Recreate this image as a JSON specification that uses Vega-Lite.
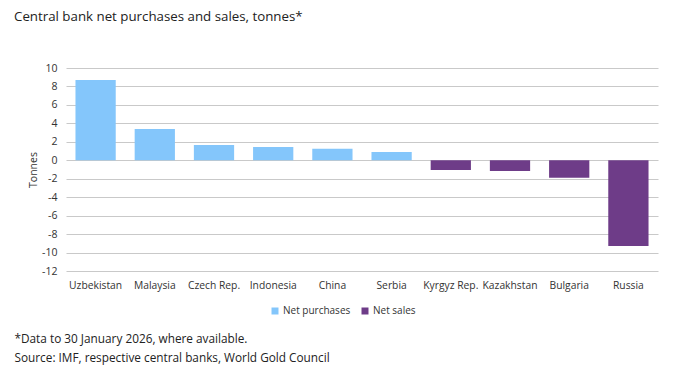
{
  "$schema": "https://vega.github.io/schema/vega-lite/v6.json",
  "width": 592,
  "height": 203,
  "autosize": "none",
  "padding": {"left": 66, "top": 68, "right": 22, "bottom": 106},
  "background": "white",
  "config": {
    "font": "Open Sans",
    "view": {"stroke": null},
    "axis": {"labelFont": "Open Sans", "titleFont": "Open Sans", "labelColor": "#333333", "titleColor": "#333333"}
  },
  "title": {
    "text": "Central bank net purchases and sales, tonnes*",
    "anchor": "start",
    "frame": "group",
    "dx": -52,
    "offset": 29,
    "baseline": "alphabetic",
    "fontSize": 13.3,
    "fontWeight": "normal",
    "color": "#222222",
    "font": "Open Sans"
  },
  "data": {
    "values": [
      {"country": "Uzbekistan", "value": 8.7, "type": "Net purchases"},
      {"country": "Malaysia", "value": 3.4, "type": "Net purchases"},
      {"country": "Czech Rep.", "value": 1.65, "type": "Net purchases"},
      {"country": "Indonesia", "value": 1.45, "type": "Net purchases"},
      {"country": "China", "value": 1.25, "type": "Net purchases"},
      {"country": "Serbia", "value": 0.9, "type": "Net purchases"},
      {"country": "Kyrgyz Rep.", "value": -1.05, "type": "Net sales"},
      {"country": "Kazakhstan", "value": -1.15, "type": "Net sales"},
      {"country": "Bulgaria", "value": -1.9, "type": "Net sales"},
      {"country": "Russia", "value": -9.3, "type": "Net sales"}
    ]
  },
  "mark": {"type": "bar"},
  "encoding": {
    "x": {
      "field": "country",
      "type": "nominal",
      "sort": null,
      "scale": {"paddingInner": 0.32, "paddingOuter": 0.16},
      "axis": {
        "labelAngle": 0,
        "labelFontSize": 10.3,
        "labelPadding": 9,
        "ticks": false,
        "domain": false,
        "title": ["*Data to 30 January 2026, where available.", "Source: IMF, respective central banks, World Gold Council"],
        "titleX": -52,
        "titleY": 71,
        "titleAlign": "left",
        "titleAnchor": "start",
        "titleBaseline": "alphabetic",
        "titleFontSize": 11.8,
        "titleFontWeight": "normal",
        "titleLineHeight": 19,
        "titleColor": "#222222"
      }
    },
    "y": {
      "field": "value",
      "type": "quantitative",
      "scale": {"domain": [-12, 10], "nice": false},
      "axis": {
        "values": [-12, -10, -8, -6, -4, -2, 0, 2, 4, 6, 8, 10],
        "labelExpr": "'' + datum.value",
        "title": "Tonnes",
        "titleFontSize": 10.5,
        "titleFontWeight": "normal",
        "titlePadding": 3,
        "labelFontSize": 10.5,
        "labelPadding": 9,
        "ticks": false,
        "domain": false,
        "gridColor": "#c9c9c9",
        "gridWidth": 1.2
      }
    },
    "color": {
      "field": "type",
      "type": "nominal",
      "scale": {"domain": ["Net purchases", "Net sales"], "range": ["#84c6fb", "#6e3c88"]},
      "legend": {
        "title": null,
        "orient": "none",
        "direction": "horizontal",
        "legendX": 204,
        "legendY": 238,
        "symbolType": "square",
        "symbolSize": 49,
        "labelFontSize": 10,
        "labelColor": "#333333",
        "columnPadding": 9,
        "labelOffset": 3
      }
    }
  }
}
